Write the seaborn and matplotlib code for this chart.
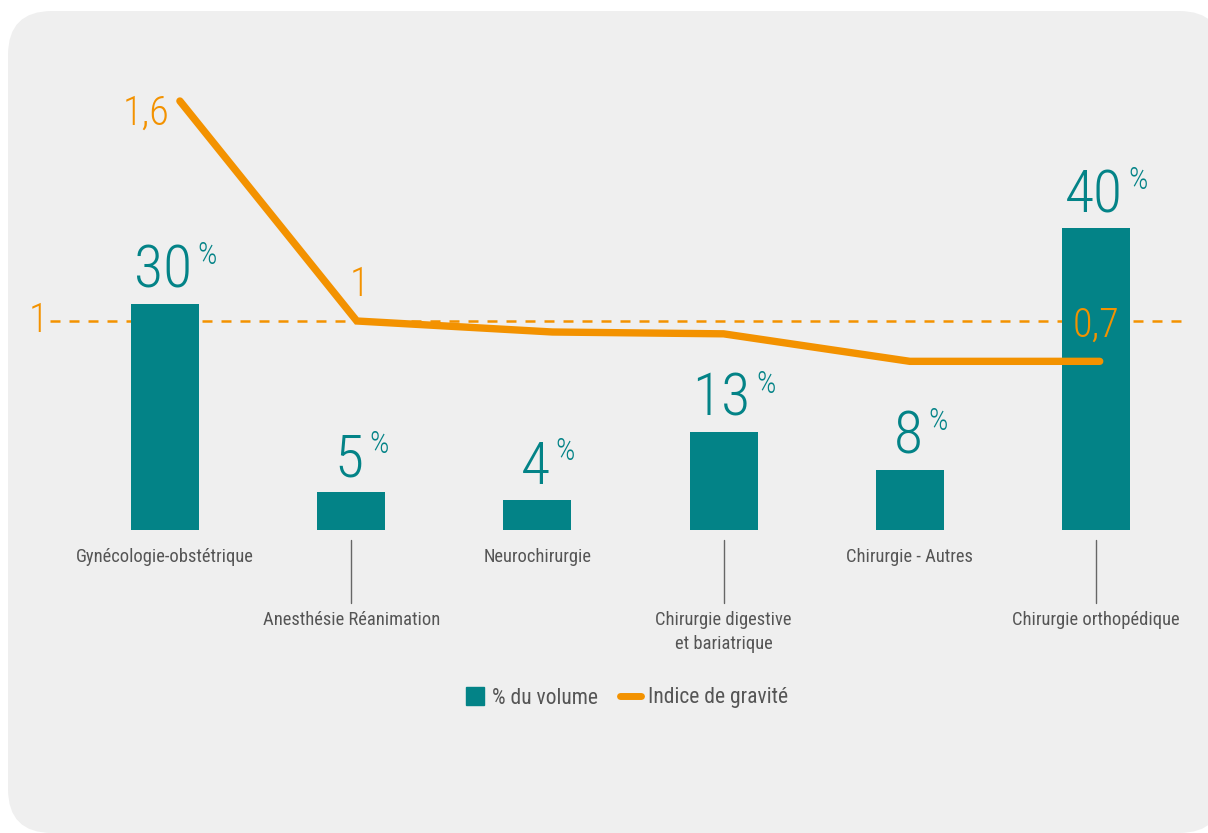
import numpy as np
import pandas as pd
import matplotlib
matplotlib.use("Agg")
import matplotlib.pyplot as plt
from matplotlib import font_manager as fm
from matplotlib.patches import FancyBboxPatch
from matplotlib.lines import Line2D
from matplotlib.transforms import IdentityTransform
import seaborn as sns

# ---------------- data ----------------
categories = ["Gynécologie-obstétrique", "Anesthésie Réanimation", "Neurochirurgie",
              "Chirurgie digestive\net bariatrique", "Chirurgie - Autres", "Chirurgie orthopédique"]
volume_pct = [30, 5, 4, 13, 8, 40]
gravity_index = [1.6, 1.0, 0.97, 0.965, 0.89, 0.89]
gravity_labels = ["1,6", "1", "", "", "", "0,7"]
reference_index = 1.0
legend_labels = ["% du volume", "Indice de gravité"]

# ---------------- style ----------------
TEAL = "#038387"
ORANGE = "#F39200"
GREY_TXT = "#555555"
BG = "#EFEFEF"

sns.set_theme(style="white")
avail = {f.name for f in fm.fontManager.ttflist}
COND = "DejaVu Sans"
for cand in ["Roboto Condensed", "Liberation Sans Narrow", "Open Sans Condensed", "DejaVu Sans Condensed"]:
    if cand in avail:
        COND = cand
        break
plt.rcParams["font.family"] = [COND, "DejaVu Sans"]

W, H, DPI = 1208, 833, 100
fig = plt.figure(figsize=(W / DPI, H / DPI), dpi=DPI)
fig.patch.set_facecolor("white")

# rounded light-grey card
card = FancyBboxPatch((8, 0), 1215, 822, boxstyle="round,pad=0,rounding_size=44",
                      transform=IdentityTransform(), facecolor=BG, edgecolor="none", zorder=0)
fig.add_artist(card)

ax = fig.add_axes([0, 0, 1, 1])
ax.set_facecolor("none")

df = pd.DataFrame({"cat": categories, "vol": volume_pct})
sns.barplot(data=df, x="cat", y="vol", color=TEAL, width=0.365, saturation=1,
            linewidth=0, edgecolor="none", ax=ax, zorder=2)

# axis mapping: category i centred at 165 + i*186.2 px; bar base at y=530 px from top
px_per_cat = 186.2
px_per_pct = 7.55
base_from_bottom = H - 530
ax.set_xlim(-165 / px_per_cat, (W - 165) / px_per_cat)
ax.set_ylim(-base_from_bottom / px_per_pct, (H - base_from_bottom) / px_per_pct)
ax.axis("off")

def ypx(y_from_top):
    return (530 - y_from_top) / px_per_pct

# value labels on bars
NUM_SIZE = 43
PCT_SIZE = 22
for i, v in enumerate(volume_pct):
    num = ax.text(i - 0.01, v + 2.1, f"{v}", ha="center", va="baseline",
                  fontsize=NUM_SIZE, fontweight="light", color=TEAL, zorder=5)
    ax.annotate("%", xy=(1, v + 2.1), xycoords=(num, "data"),
                xytext=(4, 0.71 * NUM_SIZE + 2 - 0.71 * PCT_SIZE), textcoords="offset points",
                ha="left", va="baseline", fontsize=PCT_SIZE, fontweight="light",
                color=TEAL, zorder=5)

# category labels, alternating heights with connector lines
for i, lab in enumerate(categories):
    if i % 2 == 0:
        ax.text(i, ypx(557), lab, ha="center", va="center", fontsize=13.3, color=GREY_TXT)
    else:
        ax.plot([i, i], [ypx(540), ypx(603)], color="#666666", lw=1.0, zorder=1)
        ax.text(i, ypx(611), lab, ha="center", va="top", fontsize=13.3, color=GREY_TXT,
                linespacing=1.45)

# gravity index on twin axis
ax2 = ax.twinx()
ax2.set_position([0, 0, 1, 1])
px_per_unit = 220 / 0.6
one_from_bottom = H - 321
ax2.set_ylim(1.0 - one_from_bottom / px_per_unit, 1.0 + (H - one_from_bottom) / px_per_unit)
line_x_offset = [0.08, 0.03, 0.08, 0.0, 0.0, 0.02]
gdf = pd.DataFrame({"x": np.arange(len(categories)) + np.array(line_x_offset), "g": gravity_index})
sns.lineplot(data=gdf, x="x", y="g", color=ORANGE, lw=5.3, ax=ax2, zorder=4,
             solid_capstyle="round", solid_joinstyle="miter")
ax2.set_xlim(ax.get_xlim())
ax2.axis("off")

# dashed reference line (behind bars)
ax.plot([(50 - 165) / px_per_cat, (1190 - 165) / px_per_cat], [reference_index] * 2,
        transform=ax2.transData, color=ORANGE, lw=1.8, dashes=(4, 3.6), zorder=1)
ax.text((48 - 165) / px_per_cat, reference_index, "1", transform=ax2.transData,
        ha="right", va="center", fontsize=29, fontweight="light", color=ORANGE)

# gravity labels
lab_pos = {0: ((170 - 165) / px_per_cat, 1.0 + (321 - 113) / px_per_unit, "right"),
           1: (1.045, 1.0 + (321 - 285) / px_per_unit, "center"),
           5: (5.0, 1.0 + (321 - 326) / px_per_unit, "center")}
for i, lab in enumerate(gravity_labels):
    if lab:
        x, y, ha = lab_pos[i]
        ax2.text(x, y, lab, ha=ha, va="center", fontsize=29, fontweight="light",
                 color=ORANGE, zorder=6)

# legend
handles = [Line2D([], [], marker="s", color=TEAL, markersize=13, linestyle="none"),
           Line2D([], [], color=ORANGE, lw=5, solid_capstyle="round")]
leg = ax2.legend(handles, legend_labels, loc="center", bbox_to_anchor=(626 / W, (H - 698) / H),
                 bbox_transform=fig.transFigure, ncol=2, frameon=False, fontsize=15.5,
                 handlelength=1.0, handletextpad=0.3, columnspacing=1.0, labelcolor=GREY_TXT)

fig.savefig("out.png", dpi=DPI, facecolor="white")
